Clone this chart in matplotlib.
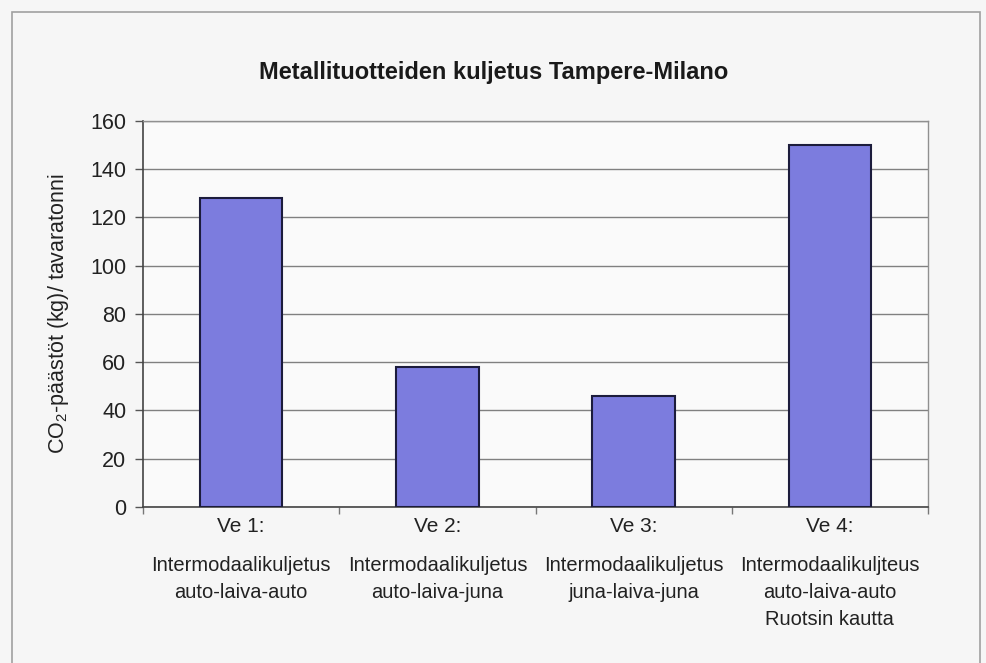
import matplotlib
matplotlib.use("Agg")
import matplotlib.pyplot as plt
from matplotlib.patches import Rectangle
import numpy as np

categories = ["Ve 1:", "Ve 2:", "Ve 3:", "Ve 4:"]
descriptions = [
    "Intermodaalikuljetus\nauto-laiva-auto",
    "Intermodaalikuljetus\nauto-laiva-juna",
    "Intermodaalikuljetus\njuna-laiva-juna",
    "Intermodaalikuljteus\nauto-laiva-auto\nRuotsin kautta",
]
values = [128, 58, 46, 150]
yticks = [0, 20, 40, 60, 80, 100, 120, 140, 160]
title = "Metallituotteiden kuljetus Tampere-Milano"

plt.rcParams['font.family'] = ["Liberation Sans", "DejaVu Sans"]

fig = plt.figure(figsize=(9.87, 6.63), dpi=100, facecolor="#f6f6f6")
fig.patches.append(Rectangle((12/987, -0.01), (980-12)/987, 1 - 12/663 + 0.01,
                             transform=fig.transFigure, fill=False,
                             edgecolor="#a0a0a0", linewidth=1.2))

ax = fig.add_axes([143/987, 1-507/663, (928-143)/987, (507-121)/663])
ax.set_facecolor("#fafafa")
x = np.arange(len(values))
ax.bar(x, values, width=0.42, color="#7c7cde", edgecolor="#1c1c3c", linewidth=1.5, zorder=3)
ax.set_xlim(-0.5, len(values)-0.5)
ax.set_ylim(0, 160)
ax.set_yticks(yticks)
ax.yaxis.grid(True, color="#808080", linewidth=1.0, zorder=0)
ax.tick_params(axis='y', labelsize=15.5, length=6, width=1, color="#555555", pad=6, labelcolor="#222222")
ax.set_xticks(x)
ax.set_xticklabels(categories, fontsize=15, color="#222222")
ax.tick_params(axis='x', which='major', length=0, pad=7)
ax.set_xticks(np.arange(-0.5, len(values), 1), minor=True)
ax.tick_params(axis='x', which='minor', length=5, width=1, color="#777777")
for s in ["left", "bottom"]:
    ax.spines[s].set_color("#444444")
    ax.spines[s].set_linewidth(1.2)
for s in ["top", "right"]:
    ax.spines[s].set_color("#909090")
    ax.spines[s].set_linewidth(1.0)

for xi, d in zip(x, descriptions):
    ax.annotate(d, xy=(xi, 0), xycoords=('data', 'axes fraction'),
                xytext=(0, -35), textcoords='offset points',
                ha='center', va='top', fontsize=14.5,
                linespacing=1.55, color="#222222")

ax.set_ylabel(r"CO$_\mathregular{2}$-päästöt (kg)/ tavaratonni", fontsize=15.5, color="#222222", labelpad=14)
fig.text(0.5, 1-72/663, title, ha='center', va='center', fontsize=17,
         fontweight='bold', color="#1a1a1a")

fig.savefig("out.png", dpi=100, facecolor=fig.get_facecolor())
